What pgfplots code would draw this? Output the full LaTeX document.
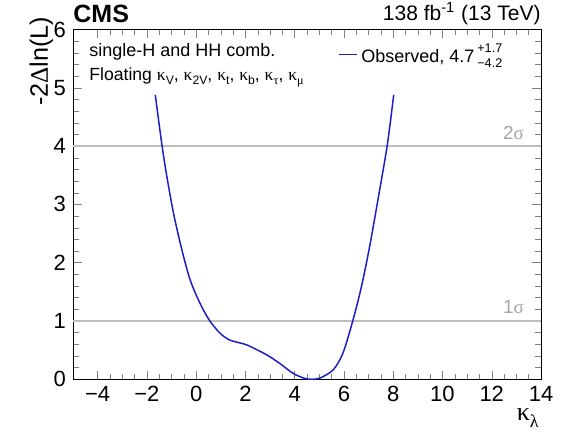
\documentclass[border=0pt]{standalone}
\usepackage{pgfplots}
\pgfplotsset{compat=1.18}
\usepackage{fontspec}
\setmainfont{Liberation Sans}
\newfontfamily\symf{Liberation Serif}
\definecolor{obsblue}{RGB}{30,30,200}
\definecolor{refgray}{RGB}{190,190,190}
\definecolor{labgray}{RGB}{165,165,165}
\newcommand{\kap}{{\symf κ}}
\newcommand{\sub}[1]{\raisebox{-0.45ex}{\fontsize{6.1}{7}\selectfont #1}}

\pgfplotstableread{
x y
-1.66 4.88
-1.39 4.02
-1.19 3.48
-0.92 2.85
-0.58 2.22
-0.24 1.70
0.16 1.30
0.54 1.01
0.97 0.79
1.38 0.67
2.05 0.59
2.86 0.42
3.40 0.27
3.94 0.10
4.41 0.015
4.70 0.0
5.02 0.02
5.56 0.16
5.96 0.45
6.37 1.02
6.71 1.59
7.04 2.27
7.38 3.08
7.76 4.02
8.02 4.88
}\obsdata

\begin{document}
\begin{tikzpicture}
\begin{axis}[
  scale only axis, width=234pt, height=174.9pt,
  xmin=-5, xmax=14, ymin=0, ymax=6,
  xtick={-4,-2,...,14},
  xticklabels={−4,−2,0,2,4,6,8,10,12,14},
  minor x tick num=3,
  ytick={0,1,...,6},
  minor y tick num=4,
  tick align=inside,
  tick label style={font=\fontsize{11}{13}\selectfont},
  /pgf/number format/assume math mode=true,
  legend style={at={(rel axis cs:0.565,0.928)}, anchor=west, draw=none, fill=none,
    inner sep=0pt, font=\fontsize{9}{11}\selectfont},
  legend cell align=left,
  legend image code/.code={\draw[#1] (0pt,0pt) -- (9pt,0pt);},
]
\addplot[refgray, line width=0.6pt, forget plot] coordinates {(-5,4) (14,4)};
\addplot[refgray, line width=0.6pt, forget plot] coordinates {(-5,1) (14,1)};
\addplot[obsblue, line width=0.75pt, smooth, tension=0.5] table[x=x,y=y] {\obsdata};
\addlegendentry{Observed, 4.7\,\rlap{\raisebox{0.95ex}{\fontsize{6.3}{7}\selectfont +1.7}}\raisebox{-0.6ex}{\fontsize{6.3}{7}\selectfont −4.2}}

\node[anchor=base east, text=labgray, inner sep=0, font=\fontsize{9.5}{11}\selectfont] at (axis cs:13.32,4.12) {2{\symf σ}};
\node[anchor=base east, text=labgray, inner sep=0, font=\fontsize{9.5}{11}\selectfont] at (axis cs:13.32,1.12) {1{\symf σ}};

\node[anchor=base west, inner sep=0, font=\fontsize{9}{11}\selectfont] at (axis cs:-4.35,5.53) {single-H and HH comb.};
\node[anchor=base west, inner sep=0, font=\fontsize{8.8}{11}\selectfont] at (axis cs:-4.35,5.13) {Floating \kap\sub{V}, \kap\sub{2V}, \kap\sub{t}, \kap\sub{b}, \kap\sub{\symf τ}, \kap\sub{\symf μ}};

\coordinate (sw) at (rel axis cs:0,0);
\coordinate (se) at (rel axis cs:1,0);
\coordinate (nw) at (rel axis cs:0,1);
\coordinate (ne) at (rel axis cs:1,1);
\end{axis}

\node[anchor=base west, inner sep=0, font=\fontsize{12.5}{14}\bfseries\selectfont] at ([yshift=3.6pt]nw) {CMS};
\node[anchor=base east, inner sep=0, font=\fontsize{10.5}{12}\selectfont] at ([yshift=4.7pt]ne) {138 fb\textsuperscript{-1} (13 TeV)};
\node[rotate=90, anchor=base east, inner sep=0, font=\fontsize{12.6}{14}\selectfont] at ([xshift=-12.5pt,yshift=6.5pt]nw) {-2{\symf Δ}ln(L)};
\node[anchor=base east, inner sep=0, font=\fontsize{13}{15}\selectfont] at ([xshift=-1pt,yshift=-20.5pt]se) {\kap\raisebox{-0.5ex}{\fontsize{9}{10}\selectfont\symf λ}};

\pgfresetboundingbox
\path[use as bounding box] ([xshift=-36.5pt,yshift=-27.35pt]sw) rectangle ([xshift=12.5pt,yshift=14.75pt]ne);
\end{tikzpicture}
\end{document}
